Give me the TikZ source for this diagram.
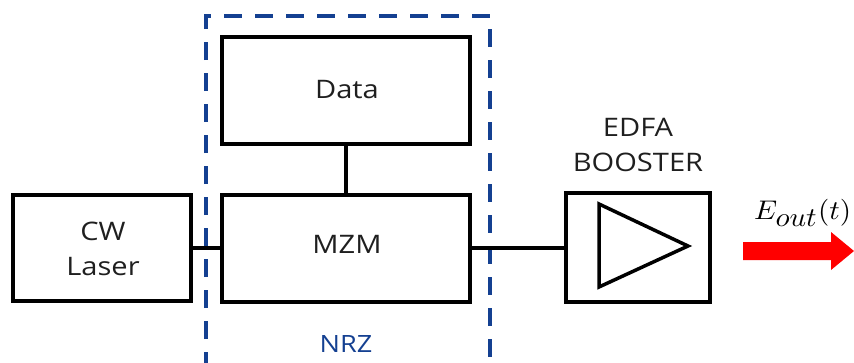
\documentclass[tikz,border=0pt]{standalone}
\usepackage{fontspec}
\setmainfont{Open Sans}
\definecolor{nrzblue}{RGB}{20,64,145}
\definecolor{arrred}{RGB}{255,0,0}
\newcommand\sx[1]{\scalebox{1.14}[1]{#1}}
\tikzset{
  blockbox/.style={draw=black, line width=4pt, minimum width=#1, inner sep=0pt},
  lbl/.style={font=\fontsize{25.5}{35}\selectfont, align=center, text=black!88, inner sep=0pt},
  wire/.style={line width=3.5pt, black},
  nrzframe/.style={draw=nrzblue, line width=4pt, dash pattern=on 18pt off 13pt},
}
\begin{document}
\begin{tikzpicture}[x=1pt,y=-1pt]
\useasboundingbox (0,0) rectangle (854,362);
\node[blockbox=178pt, minimum height=106pt] (laser) at (102,248) {};
\node[blockbox=248pt, minimum height=107pt] (data) at (346,90.5) {};
\node[blockbox=248pt, minimum height=107pt] (mzm) at (346,248) {};
\node[blockbox=144pt, minimum height=109pt] (edfa) at (638,247) {};
\node[lbl] (laserT) at (103,248.5) {\sx{CW}\\\sx{Laser}};
\node[lbl, anchor=base] (dataT) at (347,98) {\sx{Data}};
\node[lbl, anchor=base] (mzmT) at (347,253) {\sx{MZM}};
\node[lbl] (edfaT) at (638,145) {\sx{EDFA}\\\sx{BOOSTER}};
\node[lbl, font=\fontsize{23.8}{28}\selectfont, text=nrzblue, anchor=base] (nrz) at (346,352) {\sx{NRZ}};
\draw[nrzframe] (206,370) -- (206,16) -- (490,16) -- (490,370);
\draw[wire] (laser.east) -- (mzm.west);
\draw[wire] (data.south) -- (mzm.north);
\draw[wire] (mzm.east) -- (mzm.east -| edfa.west);
\draw[line width=3.5pt, line join=miter] (599,204) -- (599,287) -- (688,246) -- cycle;
\fill[arrred] (743,242) -- (831,242) -- (831,232) -- (854,251) -- (831,270) -- (831,260) -- (743,260) -- cycle;
\node[inner sep=0pt, anchor=base west] (eout) at (754,219) {\scalebox{2.9}[2.7]{$E_{\textstyle out}(t)$}};
\end{tikzpicture}
\end{document}
